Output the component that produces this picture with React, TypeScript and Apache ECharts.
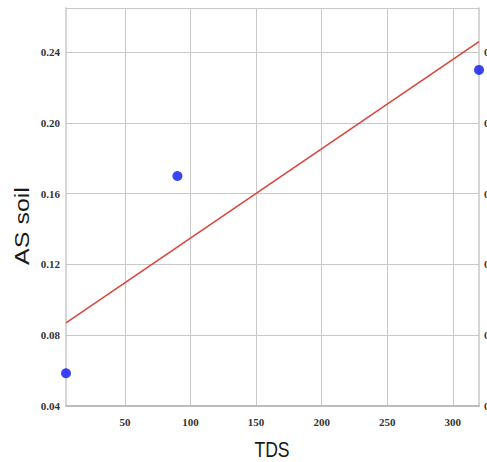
import React, { useEffect, useRef } from "react";
import * as echarts from "echarts";

// Measured samples: TDS vs arsenic in soil
const tdsValues = [5, 90, 320];
const asSoilValues = [0.0585, 0.17, 0.23];

// Fitted trend line end points
const trendTds = [5, 320];
const trendAs = [0.087, 0.246];

const xTickValues = [50, 100, 150, 200, 250, 300];
const yTickValues = [0.04, 0.08, 0.12, 0.16, 0.2, 0.24];

const xTitle = "TDS";
const yTitle = "AS soil";

export default function App() {
  const ref = useRef<HTMLDivElement>(null);

  useEffect(() => {
    if (!ref.current) return;
    const chart = echarts.init(ref.current, null, { renderer: "svg" });
    const labelFont = {
      fontFamily: "Liberation Serif",
      fontSize: 11,
      fontWeight: "bold" as const,
      color: "#333",
    };
    chart.setOption({
      animation: false,
      backgroundColor: "#ffffff",
      grid: {
        left: 66,
        right: 8,
        top: 8,
        bottom: 56,
        containLabel: false,
        outerBoundsMode: "none",
      },
      // Axis titles, drawn slightly condensed
      graphic: [
        {
          type: "text",
          x: 272,
          y: 449,
          scaleX: 0.8,
          style: {
            text: xTitle,
            fontFamily: "Liberation Sans",
            fontSize: 22,
            fill: "#1a1a1a",
            textAlign: "center",
            textVerticalAlign: "middle",
          },
        },
        {
          type: "text",
          x: 22.5,
          y: 226,
          rotation: Math.PI / 2,
          scaleY: 0.8,
          style: {
            text: yTitle,
            fontFamily: "Liberation Sans",
            fontSize: 25,
            fill: "#1a1a1a",
            textAlign: "center",
            textVerticalAlign: "middle",
          },
        },
      ],
      xAxis: {
        type: "value",
        min: 5,
        max: 320,
        axisLine: { show: true, lineStyle: { color: "#bdbdbd", width: 2 } },
        axisTick: { show: false, customValues: xTickValues },
        axisLabel: { ...labelFont, customValues: xTickValues, margin: 10 },
        splitLine: { show: true, lineStyle: { color: "#c8c8c8", width: 1 } },
      },
      yAxis: [
        {
          type: "value",
          min: 0.04,
          max: 0.265,
          interval: 0.04,
          axisLine: { show: true, lineStyle: { color: "#c8c8c8", width: 1.5 } },
          axisTick: { show: false },
          axisLabel: {
            ...labelFont,
            margin: 6,
            customValues: yTickValues,
            formatter: (v: number) => v.toFixed(2),
          },
          splitLine: { show: true, lineStyle: { color: "#c8c8c8", width: 1 } },
        },
        {
          type: "value",
          position: "right",
          min: 0.04,
          max: 0.265,
          interval: 0.04,
          axisLine: { show: true, lineStyle: { color: "#c8c8c8", width: 1.5 } },
          axisTick: { show: false },
          axisLabel: {
            ...labelFont,
            margin: 5,
            customValues: yTickValues,
            formatter: (v: number) => v.toFixed(2),
          },
          splitLine: { show: false },
        },
      ],
      series: [
        {
          type: "line",
          data: trendTds.map((x, i) => [x, trendAs[i]]),
          symbol: "none",
          lineStyle: { color: "#d9463e", width: 1.6 },
          z: 2,
        },
        {
          type: "scatter",
          data: tdsValues.map((x, i) => [x, asSoilValues[i]]),
          symbolSize: 10,
          itemStyle: { color: "#0a14f0" },
          clip: false,
          z: 3,
        },
      ],
    });
    return () => chart.dispose();
  }, []);

  return (
    <div
      ref={ref}
      style={{ position: "fixed", left: 0, top: 0, width: 487, height: 462 }}
    />
  );
}
